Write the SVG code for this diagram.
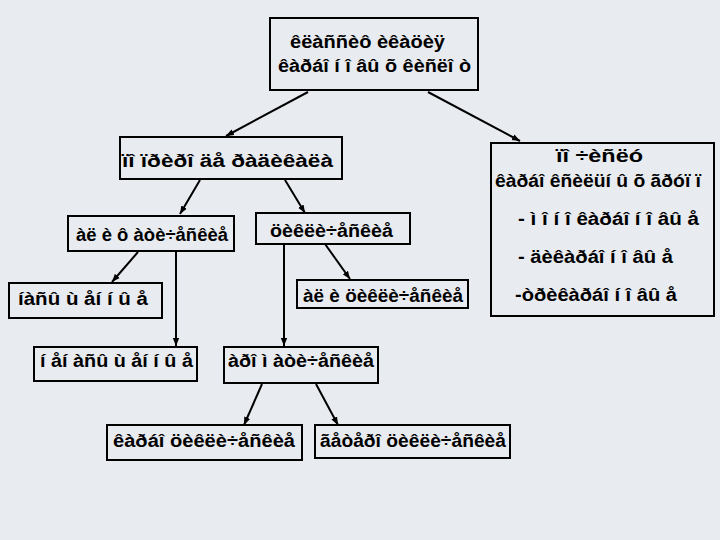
<svg xmlns="http://www.w3.org/2000/svg" width="720" height="540" viewBox="0 0 720 540">
<defs>
<marker id="ah" viewBox="0 0 10 10" refX="10" refY="5" markerWidth="8" markerHeight="8" markerUnits="userSpaceOnUse" orient="auto">
<path d="M0,1 L10,5 L0,9 z" fill="#000"/>
</marker>
<style>
.bx{fill:#e8ebef;stroke:#000;stroke-width:2}
.t{font-family:"Liberation Sans",Arial,sans-serif;font-size:18px;font-weight:bold;fill:#000}
.c{stroke:#000;stroke-width:2;fill:none;marker-end:url(#ah)}
</style>
</defs>
<rect width="720" height="540" fill="#e8ebef"/>
<g id="connectors">
<line class="c" x1="308" y1="92" x2="226" y2="136"/>
<line class="c" x1="428" y1="92" x2="520" y2="141"/>
<line class="c" x1="200" y1="180" x2="180" y2="214"/>
<line class="c" x1="285" y1="180" x2="305" y2="213"/>
<line class="c" x1="138" y1="252" x2="112" y2="282"/>
<line class="c" x1="176" y1="252" x2="176" y2="346"/>
<line class="c" x1="325" y1="244" x2="350" y2="279"/>
<line class="c" x1="284" y1="244" x2="284" y2="346"/>
<line class="c" x1="262" y1="384" x2="244" y2="425"/>
<line class="c" x1="316" y1="384" x2="338" y2="425"/>
</g>
<g id="root">
<rect class="bx" x="270" y="18" width="208" height="72"/>
<text class="t" x="290" y="48" textLength="155" lengthAdjust="spacingAndGlyphs">êëàññèô èêàöèÿ</text>
<text class="t" x="278" y="72" textLength="193" lengthAdjust="spacingAndGlyphs">êàðáî í î âû õ êèñëî ò</text>
</g>
<g id="n-radical">
<rect class="bx" x="120" y="137" width="222" height="42"/>
<text class="t" x="122" y="167" textLength="211" lengthAdjust="spacingAndGlyphs">ïî ïðèðî äå ðàäèêàëà</text>
</g>
<g id="n-count">
<rect class="bx" x="491" y="143" width="223" height="173"/>
<text class="t" x="556" y="162" textLength="87" lengthAdjust="spacingAndGlyphs">ïî ÷èñëó</text>
<text class="t" x="495" y="187" textLength="206" lengthAdjust="spacingAndGlyphs">êàðáî êñèëüí û õ ãðóï ï</text>
<text class="t" x="518" y="225" textLength="181" lengthAdjust="spacingAndGlyphs">- ì î í î êàðáî í î âû å</text>
<text class="t" x="518" y="263" textLength="155" lengthAdjust="spacingAndGlyphs">- äèêàðáî í î âû å</text>
<text class="t" x="515" y="301" textLength="162" lengthAdjust="spacingAndGlyphs">-òðèêàðáî í î âû å</text>
</g>
<g id="n-aliphatic">
<rect class="bx" x="68" y="216" width="166" height="35"/>
<text class="t" x="76" y="241" textLength="152" lengthAdjust="spacingAndGlyphs">àë è ô àòè÷åñêèå</text>
</g>
<g id="n-cyclic">
<rect class="bx" x="256" y="213" width="154" height="31"/>
<text class="t" x="270" y="237" textLength="123" lengthAdjust="spacingAndGlyphs">öèêëè÷åñêèå</text>
</g>
<g id="n-saturated">
<rect class="bx" x="9" y="283" width="153" height="35"/>
<text class="t" x="18" y="305" textLength="130" lengthAdjust="spacingAndGlyphs">íàñû ù åí í û å</text>
</g>
<g id="n-alicyclic">
<rect class="bx" x="297" y="280" width="171" height="28"/>
<text class="t" x="303" y="302" textLength="160" lengthAdjust="spacingAndGlyphs">àë è öèêëè÷åñêèå</text>
</g>
<g id="n-unsaturated">
<rect class="bx" x="34" y="347" width="163" height="34"/>
<text class="t" x="40" y="367" textLength="153" lengthAdjust="spacingAndGlyphs">í åí àñû ù åí í û å</text>
</g>
<g id="n-aromatic">
<rect class="bx" x="224" y="347" width="154" height="36"/>
<text class="t" x="228" y="367" textLength="146" lengthAdjust="spacingAndGlyphs">àðî ì àòè÷åñêèå</text>
</g>
<g id="n-carbocyclic">
<rect class="bx" x="107" y="425" width="195" height="35"/>
<text class="t" x="113" y="447" textLength="182" lengthAdjust="spacingAndGlyphs">êàðáî öèêëè÷åñêèå</text>
</g>
<g id="n-heterocyclic">
<rect class="bx" x="315" y="425" width="195" height="33"/>
<text class="t" x="320" y="447" textLength="186" lengthAdjust="spacingAndGlyphs">ãåòåðî öèêëè÷åñêèå</text>
</g>
</svg>
